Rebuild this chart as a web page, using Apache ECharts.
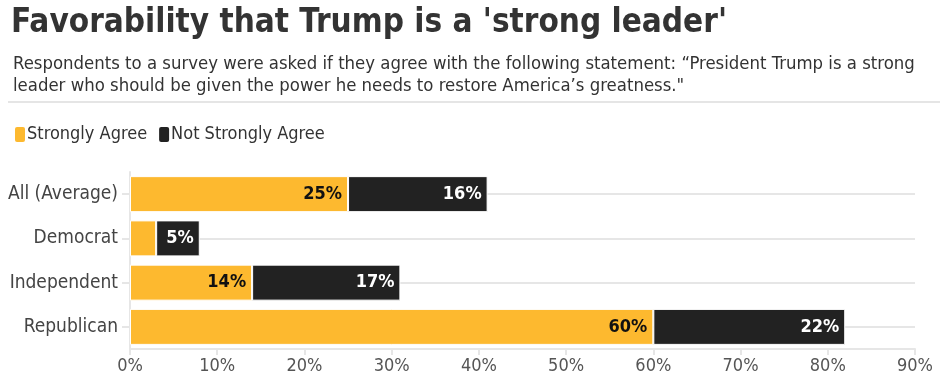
<!DOCTYPE html>
<html><head><meta charset="utf-8">
<script src="https://cdn.jsdelivr.net/npm/echarts@6/dist/echarts.min.js"></script>
<style>html,body{margin:0;padding:0;background:#fff}#c{width:947px;height:390px}</style>
</head><body><div id="c"></div>
<script>
const categories = ['All (Average)', 'Democrat', 'Independent', 'Republican'];
const stronglyAgree = [25, 3, 14, 60];
const notStronglyAgree = [16, 5, 17, 22];
const stronglyLabels = [true, false, true, true];
const xTicks = { min: 0, max: 90, interval: 10 };

const FONT = "'Liberation Sans Narrow','DejaVu Sans Condensed','Roboto Condensed','Liberation Sans',sans-serif";
const chart = echarts.init(document.getElementById('c'));
chart.setOption({
  animation: false,
  textStyle: { fontFamily: FONT },
  title: [
    { text: "Favorability that Trump is a 'strong leader'", left: 6, top: 2,
      textStyle: { fontFamily: FONT, fontSize: 33, fontWeight: 'bold', color: '#333' } },
    { text: 'Respondents to a survey were asked if they agree with the following statement: \u201cPresident Trump is a strong\nleader who should be given the power he needs to restore America\u2019s greatness."',
      left: 8, top: 48,
      textStyle: { fontFamily: FONT, fontSize: 18.4, fontWeight: 'normal', color: '#333', lineHeight: 22 } }
  ],
  graphic: [
    { type: 'line', shape: { x1: 8, y1: 102, x2: 940, y2: 102 }, style: { stroke: '#ddd', lineWidth: 1.5 } }
  ],
  legend: {
    left: 8, top: 120, itemWidth: 12, itemHeight: 17, itemGap: 10, icon: 'roundRect',
    textStyle: { fontFamily: FONT, fontSize: 18, color: '#333', padding: [0, 0, 0, -4] },
    data: ['Strongly Agree', 'Not Strongly Agree']
  },
  grid: { left: 130, right: 32, top: 172, bottom: 41 },
  xAxis: {
    type: 'value', min: xTicks.min, max: xTicks.max, interval: xTicks.interval,
    axisLine: { show: true, lineStyle: { color: '#e6e6e6', width: 2 } },
    axisTick: { show: true, length: 6, lineStyle: { color: '#e6e6e6', width: 2 } },
    splitLine: { show: false },
    axisLabel: { formatter: '{value}%', fontFamily: FONT, fontSize: 18, color: '#555', margin: 8 }
  },
  yAxis: {
    type: 'category', data: categories, inverse: true,
    axisLine: { show: true, lineStyle: { color: '#e6e6e6', width: 2 } },
    axisTick: { show: true, alignWithLabel: true, length: 8, lineStyle: { color: '#e6e6e6', width: 2 } },
    splitLine: { show: true, alignWithLabel: true, lineStyle: { color: '#e6e6e6', width: 2 } },
    axisLabel: { fontFamily: FONT, fontSize: 19, color: '#444', margin: 12 }
  },
  series: [
    { name: 'Strongly Agree', type: 'bar', stack: 'a', barWidth: 36,
      itemStyle: { color: '#FDB92F', borderColor: '#fff', borderWidth: 1 },
      data: stronglyAgree.map((v, i) => ({ value: v, label: { show: stronglyLabels[i] } })),
      label: { show: true, position: 'insideRight', formatter: '{c}%', color: '#111', fontWeight: 'bold', fontSize: 18, fontFamily: FONT, distance: 6 } },
    { name: 'Not Strongly Agree', type: 'bar', stack: 'a', barWidth: 36,
      itemStyle: { color: '#222222', borderColor: '#fff', borderWidth: 1 },
      data: notStronglyAgree,
      label: { show: true, position: 'insideRight', formatter: '{c}%', color: '#fff', fontWeight: 'bold', fontSize: 18, fontFamily: FONT, distance: 6 } }
  ]
});
</script></body></html>
